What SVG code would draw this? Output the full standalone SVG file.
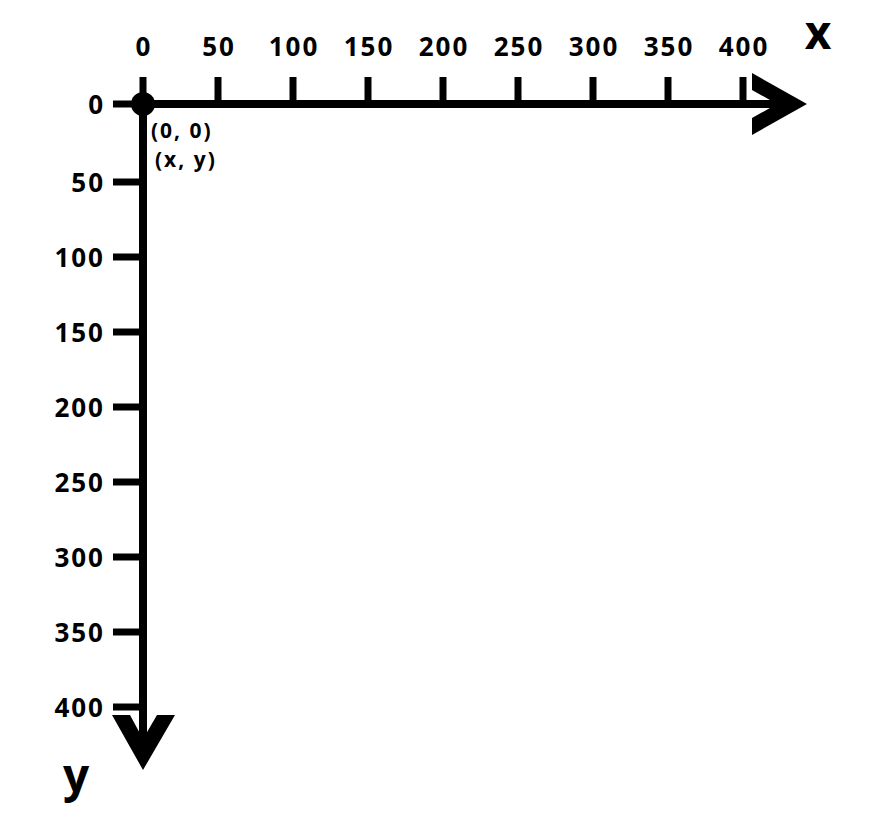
<svg xmlns="http://www.w3.org/2000/svg" width="874" height="824" viewBox="0 0 874 824">
<style>
.lbl{font-family:"Open Sans","Liberation Sans",sans-serif;font-weight:700;font-size:26px;fill:#000;letter-spacing:2px}
.xl{text-anchor:middle}
.yl{text-anchor:end;dominant-baseline:central}
.ax{stroke:#000;stroke-width:8;fill:none}
.tk{stroke:#000;stroke-width:7;fill:none}
.big{font-family:"Open Sans","Liberation Sans",sans-serif;font-weight:700;font-size:46px;fill:#000}
.sm{font-family:"Open Sans","Liberation Sans",sans-serif;font-weight:700;font-size:21px;fill:#000;letter-spacing:2px}
</style>
<rect width="874" height="824" fill="#fff"/>
<g id="connectors">
<line class="ax" x1="143" y1="104" x2="790" y2="104"/>
<line class="ax" x1="143" y1="104" x2="143" y2="755"/>
<polygon points="752,73 807,104 752,135 752,118 777,104 752,90" fill="#000"/>
<polygon points="112,715 143,770 175,715 157,715 143,739 130,715" fill="#000"/>
</g>
<g id="x-ticks">
<line class="tk" x1="143" y1="77" x2="143" y2="104"/>
<line class="tk" x1="218" y1="77" x2="218" y2="104"/>
<line class="tk" x1="293" y1="77" x2="293" y2="104"/>
<line class="tk" x1="368" y1="77" x2="368" y2="104"/>
<line class="tk" x1="443" y1="77" x2="443" y2="104"/>
<line class="tk" x1="518" y1="77" x2="518" y2="104"/>
<line class="tk" x1="593" y1="77" x2="593" y2="104"/>
<line class="tk" x1="668" y1="77" x2="668" y2="104"/>
<line class="tk" x1="743" y1="77" x2="743" y2="104"/>
</g>
<g id="y-ticks">
<line class="tk" x1="113" y1="104" x2="143" y2="104"/>
<line class="tk" x1="113" y1="182" x2="143" y2="182"/>
<line class="tk" x1="113" y1="257" x2="143" y2="257"/>
<line class="tk" x1="113" y1="332" x2="143" y2="332"/>
<line class="tk" x1="113" y1="407" x2="143" y2="407"/>
<line class="tk" x1="113" y1="482" x2="143" y2="482"/>
<line class="tk" x1="113" y1="557" x2="143" y2="557"/>
<line class="tk" x1="113" y1="632" x2="143" y2="632"/>
<line class="tk" x1="113" y1="707" x2="143" y2="707"/>
</g>
<g id="x-labels">
<text class="lbl xl" x="144" y="56">0</text>
<text class="lbl xl" x="219" y="56">50</text>
<text class="lbl xl" x="294" y="56">100</text>
<text class="lbl xl" x="369" y="56">150</text>
<text class="lbl xl" x="444" y="56">200</text>
<text class="lbl xl" x="519" y="56">250</text>
<text class="lbl xl" x="594" y="56">300</text>
<text class="lbl xl" x="669" y="56">350</text>
<text class="lbl xl" x="744" y="56">400</text>
</g>
<g id="y-labels">
<text class="lbl yl" x="105" y="104">0</text>
<text class="lbl yl" x="105" y="182">50</text>
<text class="lbl yl" x="105" y="257">100</text>
<text class="lbl yl" x="105" y="332">150</text>
<text class="lbl yl" x="105" y="407">200</text>
<text class="lbl yl" x="105" y="482">250</text>
<text class="lbl yl" x="105" y="557">300</text>
<text class="lbl yl" x="105" y="632">350</text>
<text class="lbl yl" x="105" y="707">400</text>
</g>
<g id="origin">
<circle cx="143" cy="104" r="12" fill="#000"/>
<text class="sm" x="151" y="138">(0, 0)</text>
<text class="sm" x="155" y="167">(x, y)</text>
</g>
<g id="axis-names">
<text class="big" x="818" y="49" text-anchor="middle">x</text>
<text class="big" x="76" y="792" text-anchor="middle">y</text>
</g>
</svg>
